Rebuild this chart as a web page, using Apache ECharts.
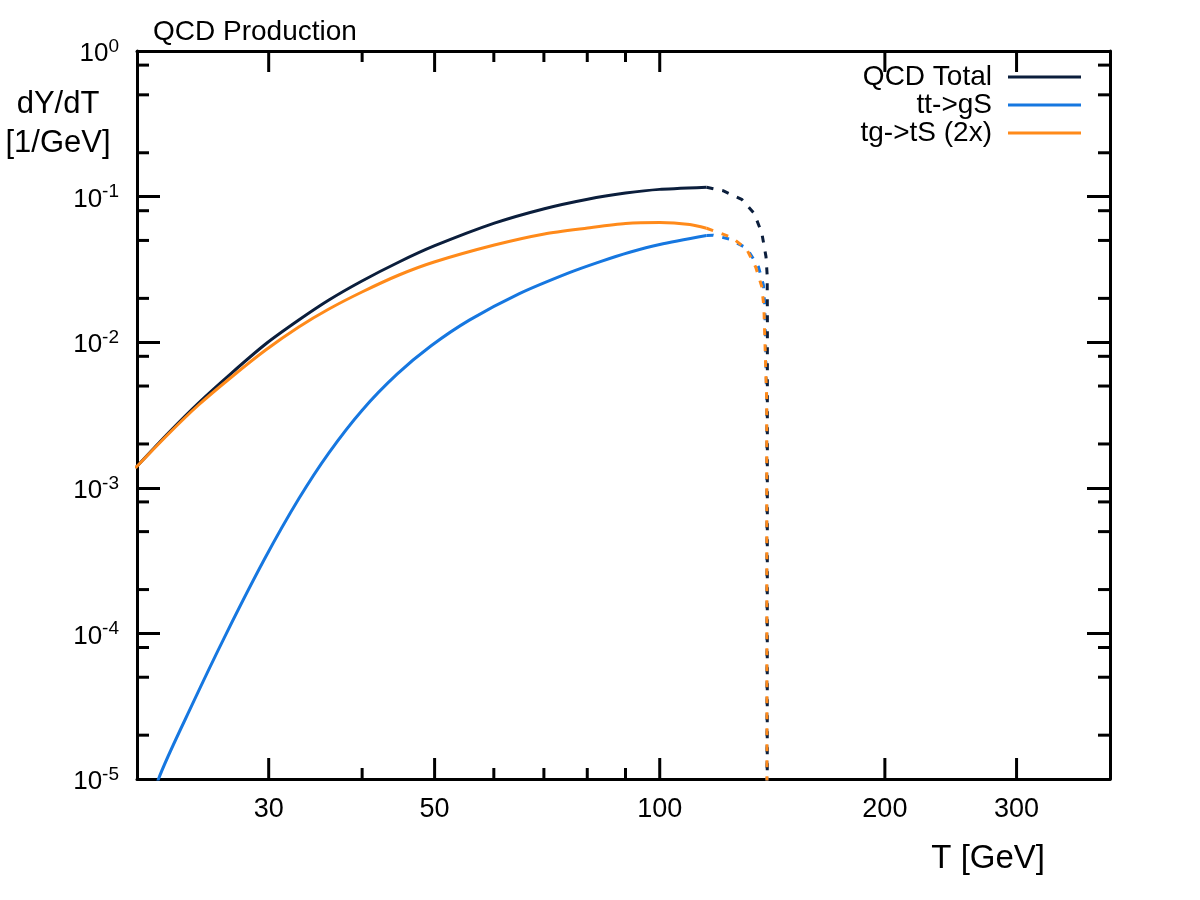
<!DOCTYPE html>
<html><head><meta charset="utf-8">
<script src="https://cdn.jsdelivr.net/npm/echarts@6/dist/echarts.min.js"></script>
<style>html,body{margin:0;padding:0;background:#fff}#c{width:1200px;height:900px}</style>
</head><body><div id="c"></div>
<script>
const FONT = '"Liberation Sans", Arial, Helvetica, sans-serif';
const titleText = 'QCD Production';
const yAxisTitle = ['dY/dT', '[1/GeV]'];
const xAxisTitle = 'T [GeV]';
const seriesNames = ['QCD Total', 'tt->gS', 'tg->tS (2x)'];
const xRange = [20, 400];
const yRange = [1e-5, 1];
const xMajorTicks = [30, 50, 100, 200, 300];
const xMinorTicks = [40, 60, 70, 80, 90];
const yMinorTicks = [2e-5,5e-5,8e-5, 2e-4,5e-4,8e-4, 2e-3,5e-3,8e-3, 2e-2,5e-2,8e-2, 2e-1,5e-1,8e-1];

// QCD Total
const totalSolid = [[19.9,1.368e-3],[22.03,2.379e-3],[24.17,3.823e-3],[26.76,6.14e-3],[29.72,9.72e-3],[32.91,1.42e-2],[36.11,1.949e-2],[39.98,2.633e-2],[44.81,3.555e-2],[49.93,4.58e-2],[60.1,6.57e-2],[70.1,8.26e-2],[80.1,9.6e-2],[90,1.057e-1],[100,1.121e-1],[115.5,1.159e-1]];
const totalDashed = [[115.5,1.159e-1],[121.5,1.098e-1],[128.7,9.58e-2],[133.7,7.68e-2],[136.9,5.65e-2],[138.7,3.87e-2],[139.2,2.89e-2],[139.3,1.59e-2],[139.2,1e-7]];
// tt->gS
const ttSolid = [[21.0,6e-6],[21.37,1.0e-5],[23.72,3.264e-5],[26.35,1.005e-4],[29.63,3.253e-4],[32.91,8.4e-4],[36.11,1.739e-3],[39.98,3.401e-3],[44.54,6.03e-3],[49.47,9.45e-3],[55.64,1.418e-2],[64.91,2.157e-2],[75.72,3.006e-2],[83.1,3.566e-2],[91.16,4.15e-2],[100,4.694e-2],[115.5,5.41e-2]];
const ttDashed = [[115.5,5.41e-2],[117.9,5.43e-2],[124,5.1e-2],[130.7,4.42e-2],[135.5,3.3e-2],[137.6,2.47e-2],[138.2,1.75e-2],[139,4e-3],[139.2,1e-7]];
// tg->tS (2x)
const tgSolid = [[19.9,1.368e-3],[22.03,2.342e-3],[24.17,3.704e-3],[26.76,5.77e-3],[29.72,8.84e-3],[32.91,1.272e-2],[36.11,1.69e-2],[39.98,2.212e-2],[44.81,2.894e-2],[49.93,3.555e-2],[60.1,4.65e-2],[70.1,5.54e-2],[80.1,6.08e-2],[90,6.53e-2],[100,6.64e-2],[109.7,6.43e-2],[115.5,6.06e-2]];
const tgDashed = [[115.5,6.06e-2],[124.7,5.26e-2],[130.7,4.35e-2],[134.4,3.27e-2],[136.9,2.41e-2],[137.8,1.75e-2],[139,4e-3],[139.2,1e-7]];

const COLORS = ['#0b1e3c', '#1677e0', '#ff8a1a'];

const chart = echarts.init(document.getElementById('c'), null, {renderer: 'canvas'});

function lineSeries(name, data, color, dashed, z) {
  return {
    type: 'line', name: name, data: data, showSymbol: false, symbol: 'none',
    smooth: dashed ? false : 0.25, z: z, silent: true,
    lineStyle: {color: color, width: 3, type: dashed ? [7, 9] : 'solid'},
    itemStyle: {color: color}
  };
}

function xTickSeries(values, major) {
  return {
    type: 'custom', silent: true, clip: false, z: 20,
    data: values.map(v => [v, yRange[0]]),
    renderItem: function (params, api) {
      const cs = params.coordSys;
      const px = api.coord([api.value(0), yRange[0]])[0];
      const len = major ? 21 : 11;
      const bottom = cs.y + cs.height;
      const st = {stroke: '#000', lineWidth: 3};
      const children = [
        {type: 'line', shape: {x1: px, y1: bottom, x2: px, y2: bottom - len}, style: st},
        {type: 'line', shape: {x1: px, y1: cs.y, x2: px, y2: cs.y + len}, style: st}
      ];
      if (major) {
        children.push({type: 'text', style: {text: String(api.value(0)), x: px, y: bottom + 31,
          textAlign: 'center', textVerticalAlign: 'middle', fontSize: 27, fontFamily: FONT, fill: '#000'}});
      }
      return {type: 'group', children: children};
    }
  };
}

function yMinorSeries(values) {
  return {
    type: 'custom', silent: true, clip: false, z: 20,
    data: values.map(v => [xRange[0], v]),
    renderItem: function (params, api) {
      const cs = params.coordSys;
      const py = api.coord([xRange[0], api.value(1)])[1];
      const st = {stroke: '#000', lineWidth: 3};
      return {type: 'group', children: [
        {type: 'line', shape: {x1: cs.x, y1: py, x2: cs.x + 12, y2: py}, style: st},
        {type: 'line', shape: {x1: cs.x + cs.width, y1: py, x2: cs.x + cs.width - 12, y2: py}, style: st}
      ]};
    }
  };
}

const axisCommonX = {
  type: 'log', logBase: 10, min: xRange[0], max: xRange[1],
  axisLine: {show: true, onZero: false, lineStyle: {color: '#000', width: 3}},
  axisTick: {show: false}, axisLabel: {show: false}, splitLine: {show: false}
};
const axisCommonY = {
  type: 'log', logBase: 10, min: yRange[0], max: yRange[1],
  axisLine: {show: true, onZero: false, lineStyle: {color: '#000', width: 3}},
  axisTick: {show: true, inside: true, length: 23, lineStyle: {color: '#000', width: 3}},
  splitLine: {show: false}, minorTick: {show: false}
};

const option = {
  animation: false,
  backgroundColor: '#fff',
  textStyle: {fontFamily: FONT},
  title: {text: titleText, left: 153, top: 18, padding: 0,
    textStyle: {fontSize: 28, fontWeight: 'normal', color: '#000', fontFamily: FONT}},
  grid: {left: 137, right: 90, top: 51, bottom: 121, containLabel: false},
  legend: {
    data: seriesNames, orient: 'vertical', align: 'right', right: 119, top: 63, padding: 0,
    icon: 'rect', itemWidth: 73, itemHeight: 3, itemGap: 0, selectedMode: false,
    textStyle: {fontSize: 28, fontFamily: FONT, color: '#000', lineHeight: 28, padding: [0, 11, 0, 0]}
  },
  xAxis: [
    Object.assign({position: 'bottom'}, axisCommonX),
    Object.assign({position: 'top'}, axisCommonX)
  ],
  yAxis: [
    Object.assign({position: 'left', axisLabel: {
      show: true, margin: 18, color: '#000',
      formatter: function (v) { return '{b|10}{s|' + Math.round(Math.log10(v)) + '}'; },
      rich: {b: {fontSize: 26, fontFamily: FONT, color: '#000', padding: [6, 0, 0, 0]},
             s: {fontSize: 19, fontFamily: FONT, color: '#000', padding: [0, 0, 9, 0]}}
    }}, axisCommonY),
    Object.assign({position: 'right', axisLabel: {show: false}}, axisCommonY)
  ],
  graphic: [
    {type: 'text', style: {text: yAxisTitle[0], x: 58, y: 104, textAlign: 'center', textVerticalAlign: 'middle', fontSize: 31, fontFamily: FONT, fill: '#000'}},
    {type: 'text', style: {text: yAxisTitle[1], x: 58, y: 143, textAlign: 'center', textVerticalAlign: 'middle', fontSize: 31, fontFamily: FONT, fill: '#000'}},
    {type: 'text', style: {text: xAxisTitle, x: 1045, y: 859, textAlign: 'right', textVerticalAlign: 'middle', fontSize: 33, fontFamily: FONT, fill: '#000'}}
  ],
  series: [
    lineSeries(seriesNames[0], totalSolid, COLORS[0], false, 5),
    lineSeries(seriesNames[1], ttSolid, COLORS[1], false, 4),
    lineSeries(seriesNames[2], tgSolid, COLORS[2], false, 6),
    lineSeries(seriesNames[0], totalDashed, COLORS[0], true, 5),
    lineSeries(seriesNames[1], ttDashed, COLORS[1], true, 4),
    lineSeries(seriesNames[2], tgDashed, COLORS[2], true, 6),
    xTickSeries(xMajorTicks, true),
    xTickSeries(xMinorTicks, false),
    yMinorSeries(yMinorTicks)
  ]
};
chart.setOption(option);
</script>
</body></html>
